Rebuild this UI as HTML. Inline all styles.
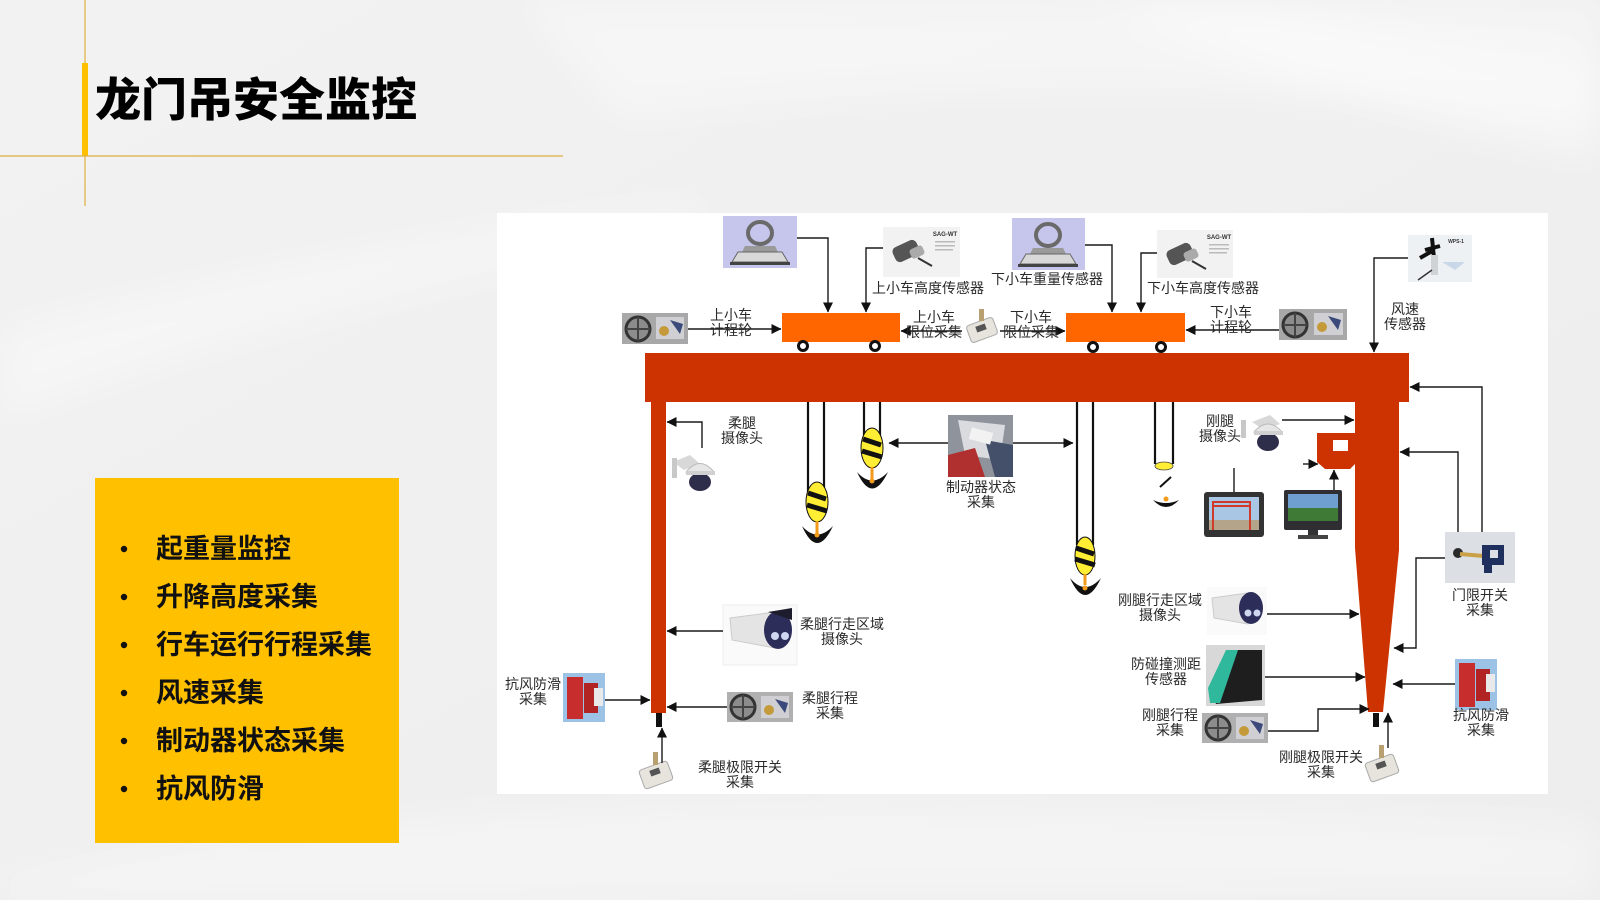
<!DOCTYPE html>
<html><head><meta charset="utf-8">
<style>
html,body{margin:0;padding:0;width:1600px;height:900px;overflow:hidden;background:#efefef;}
svg{display:block;}
text{font-family:"Liberation Sans","Noto Sans CJK SC",sans-serif;}
.lb{font-size:14px;fill:#2a2a2a;text-anchor:middle;dominant-baseline:central;}
.ln{stroke:#1a1a1a;stroke-width:1.4;fill:none;}
.rope{stroke:#111;stroke-width:2.2;}
</style></head>
<body>
<svg width="1600" height="900" viewBox="0 0 1600 900" xmlns="http://www.w3.org/2000/svg">
<defs>
<marker id="a" viewBox="0 0 10 10" refX="9.5" refY="5" markerWidth="10" markerHeight="10" markerUnits="userSpaceOnUse" orient="auto"><path d="M0,0 L10,5 L0,10 z" fill="#111"/></marker>
<linearGradient id="bg1" x1="0" y1="0" x2="1" y2="1"><stop offset="0" stop-color="#f2f2f2"/><stop offset="1" stop-color="#ededed"/></linearGradient>
<filter id="blur" x="-20%" y="-20%" width="140%" height="140%"><feGaussianBlur stdDeviation="18"/></filter>
</defs>

<!-- background -->
<rect width="1600" height="900" fill="url(#bg1)"/>
<g filter="url(#blur)">
<path d="M520,0 L1600,0 L1600,120 Q1100,60 620,120 Z" fill="#ffffff" opacity="0.35"/>
<path d="M0,330 Q300,250 700,200 L700,230 Q320,300 0,420 Z" fill="#ffffff" opacity="0.35"/>
<path d="M0,880 Q500,760 1600,820 L1600,900 L0,900 Z" fill="#ffffff" opacity="0.35"/>
<path d="M1100,0 Q1350,120 1600,160 L1600,60 Q1400,40 1250,0 Z" fill="#ffffff" opacity="0.4"/>
</g>

<!-- header -->
<line x1="85" y1="0" x2="85" y2="206" stroke="#e0b040" stroke-width="1.2"/>
<rect x="82" y="63" width="6" height="93" fill="#ffc000"/>
<line x1="0" y1="156" x2="563" y2="156" stroke="#e0b040" stroke-width="1.2"/>
<text x="95" y="100" font-size="46" font-weight="900" fill="#000" dominant-baseline="central">龙门吊安全监控</text>

<!-- yellow list box -->
<rect x="95" y="478" width="304" height="365" fill="#ffc000"/>
<g font-size="27" font-weight="700" fill="#111">
<circle cx="124" cy="549" r="3.2" fill="#111"/><text x="156" y="549" dominant-baseline="central">起重量监控</text>
<circle cx="124" cy="597" r="3.2" fill="#111"/><text x="156" y="597" dominant-baseline="central">升降高度采集</text>
<circle cx="124" cy="645" r="3.2" fill="#111"/><text x="156" y="645" dominant-baseline="central">行车运行行程采集</text>
<circle cx="124" cy="693" r="3.2" fill="#111"/><text x="156" y="693" dominant-baseline="central">风速采集</text>
<circle cx="124" cy="741" r="3.2" fill="#111"/><text x="156" y="741" dominant-baseline="central">制动器状态采集</text>
<circle cx="124" cy="789" r="3.2" fill="#111"/><text x="156" y="789" dominant-baseline="central">抗风防滑</text>
</g>

<!-- diagram panel -->
<rect x="497" y="213" width="1051" height="581" fill="#ffffff"/>

<!-- crane structure -->
<rect x="645" y="353" width="764" height="49" fill="#cc3300"/>
<rect x="651" y="400" width="15" height="313" fill="#cc3300"/>
<rect x="656" y="713" width="6" height="14" fill="#111"/>
<polygon points="1355,400 1399,400 1399,550 1383,712 1368,712 1355,548" fill="#cc3300"/>
<polygon points="1317,433 1356,433 1356,463 1350,469 1325,469 1317,462" fill="#cc3300"/>
<rect x="1333" y="440" width="15" height="11" fill="#fff"/>
<rect x="1373" y="713" width="6" height="14" fill="#111"/>

<!-- trolleys -->
<rect x="782" y="313" width="118" height="29" fill="#ff6600"/>
<circle cx="803" cy="346" r="4.5" fill="#fff" stroke="#111" stroke-width="3"/>
<circle cx="875" cy="346" r="4.5" fill="#fff" stroke="#111" stroke-width="3"/>
<rect x="1066" y="313" width="119" height="29" fill="#ff6600"/>
<circle cx="1093" cy="347" r="4.5" fill="#fff" stroke="#111" stroke-width="3"/>
<circle cx="1161" cy="347" r="4.5" fill="#fff" stroke="#111" stroke-width="3"/>

<!-- hooks -->
<g>
<line class="rope" x1="808" y1="402" x2="808" y2="492"/><line class="rope" x1="824" y1="402" x2="824" y2="492"/>
<ellipse cx="817" cy="502" rx="11" ry="20" fill="#ffee33" stroke="#111" stroke-width="1"/>
<line x1="808" y1="493" x2="826" y2="499" stroke="#111" stroke-width="5"/>
<line x1="807" y1="505" x2="827" y2="511" stroke="#111" stroke-width="5"/>
<line x1="817" y1="521" x2="817" y2="533" stroke="#f29a1a" stroke-width="3"/>
<path d="M802,526 Q817,560 833,526 Q817,543 802,526 Z" fill="#111"/>
<circle cx="817" cy="535" r="2.5" fill="#f29a1a"/>

<line class="rope" x1="864" y1="402" x2="864" y2="438"/><line class="rope" x1="880" y1="402" x2="880" y2="438"/>
<ellipse cx="872" cy="448" rx="11" ry="20" fill="#ffee33" stroke="#111" stroke-width="1"/>
<line x1="863" y1="439" x2="881" y2="445" stroke="#111" stroke-width="5"/>
<line x1="862" y1="451" x2="882" y2="457" stroke="#111" stroke-width="5"/>
<line x1="872" y1="467" x2="872" y2="479" stroke="#f29a1a" stroke-width="3"/>
<path d="M857,472 Q872,505 888,472 Q872,489 857,472 Z" fill="#111"/>
<circle cx="872" cy="481" r="2.5" fill="#f29a1a"/>

<line class="rope" x1="1077" y1="402" x2="1077" y2="545"/><line class="rope" x1="1093" y1="402" x2="1093" y2="545"/>
<ellipse cx="1085" cy="556" rx="10" ry="19" fill="#ffee33" stroke="#111" stroke-width="1"/>
<line x1="1076" y1="548" x2="1094" y2="554" stroke="#111" stroke-width="5"/>
<line x1="1075" y1="559" x2="1095" y2="565" stroke="#111" stroke-width="5"/>
<line x1="1085" y1="574" x2="1085" y2="585" stroke="#f29a1a" stroke-width="3"/>
<path d="M1070,578 Q1085,612 1101,578 Q1085,596 1070,578 Z" fill="#111"/>
<circle cx="1085" cy="588" r="2.5" fill="#f29a1a"/>

<line class="rope" x1="1155" y1="402" x2="1155" y2="464"/><line class="rope" x1="1173" y1="402" x2="1173" y2="464"/>
<ellipse cx="1164" cy="466" rx="9" ry="4" fill="#ffee33" stroke="#444" stroke-width="0.8"/>
<line x1="1160" y1="487" x2="1171" y2="477" stroke="#111" stroke-width="2"/>
<path d="M1153,500 Q1166,514 1179,500 Q1166,506 1153,500 Z" fill="#111"/>
<circle cx="1166" cy="499" r="2.5" fill="#f29a1a"/>
</g>

<!-- device pictures -->
<g>
<rect x="723" y="216" width="74" height="52" fill="#c6c6ec"/>
<ellipse cx="760" cy="233" rx="12" ry="11" fill="none" stroke="#6a6a6a" stroke-width="4"/>
<path d="M745,246 L775,246 L778,252 L742,252 Z" fill="#9a9a9a"/>
<path d="M732,262 L788,262 L782,252 L738,252 Z" fill="#d8d8d8" stroke="#666" stroke-width="1"/>
<rect x="730" y="262" width="60" height="3" fill="#444"/>
</g>
<g>
<rect x="1012" y="218" width="73" height="52" fill="#c6c6ec"/>
<ellipse cx="1048" cy="235" rx="12" ry="11" fill="none" stroke="#6a6a6a" stroke-width="4"/>
<path d="M1033,248 L1063,248 L1066,254 L1030,254 Z" fill="#9a9a9a"/>
<path d="M1020,264 L1076,264 L1070,254 L1026,254 Z" fill="#d8d8d8" stroke="#666" stroke-width="1"/>
<rect x="1018" y="264" width="60" height="3" fill="#444"/>
</g>
<g>
<rect x="883" y="227" width="77" height="50" fill="#f2f2f2"/>
<rect x="893" y="243" width="26" height="16" rx="5" fill="#555" transform="rotate(-25 906 251)"/>
<rect x="910" y="247" width="14" height="10" rx="3" fill="#aaa" transform="rotate(-25 917 252)"/>
<line x1="918" y1="258" x2="932" y2="266" stroke="#333" stroke-width="2"/>
<text x="945" y="236" font-size="6" font-weight="700" fill="#333" text-anchor="middle">SAG-WT</text>
<rect x="935" y="241" width="20" height="1.5" fill="#bbb"/><rect x="935" y="245" width="20" height="1.5" fill="#bbb"/><rect x="935" y="249" width="18" height="1.5" fill="#bbb"/>
</g>
<g>
<rect x="1157" y="230" width="76" height="48" fill="#f2f2f2"/>
<rect x="1167" y="246" width="26" height="16" rx="5" fill="#555" transform="rotate(-25 1180 254)"/>
<rect x="1184" y="250" width="14" height="10" rx="3" fill="#aaa" transform="rotate(-25 1191 255)"/>
<line x1="1192" y1="261" x2="1206" y2="269" stroke="#333" stroke-width="2"/>
<text x="1219" y="239" font-size="6" font-weight="700" fill="#333" text-anchor="middle">SAG-WT</text>
<rect x="1209" y="244" width="20" height="1.5" fill="#bbb"/><rect x="1209" y="248" width="20" height="1.5" fill="#bbb"/><rect x="1209" y="252" width="18" height="1.5" fill="#bbb"/>
</g>
<g>
<rect x="622" y="313" width="66" height="31" fill="#a8a8a8"/>
<circle cx="638" cy="329" r="12" fill="#8c8c8c" stroke="#333" stroke-width="3"/>
<line x1="626" y1="329" x2="650" y2="329" stroke="#444" stroke-width="2"/><line x1="638" y1="317" x2="638" y2="341" stroke="#444" stroke-width="2"/>
<rect x="656" y="317" width="28" height="22" fill="#cfcfd4"/>
<circle cx="664" cy="331" r="5" fill="#c49a3a"/>
<path d="M670,320 L683,324 L680,334 Z" fill="#3b4a7a"/>
</g>
<g>
<rect x="1279" y="309" width="68" height="31" fill="#a8a8a8"/>
<circle cx="1295" cy="325" r="12" fill="#8c8c8c" stroke="#333" stroke-width="3"/>
<line x1="1283" y1="325" x2="1307" y2="325" stroke="#444" stroke-width="2"/><line x1="1295" y1="313" x2="1295" y2="337" stroke="#444" stroke-width="2"/>
<rect x="1314" y="313" width="29" height="22" fill="#cfcfd4"/>
<circle cx="1322" cy="327" r="5" fill="#c49a3a"/>
<path d="M1328,316 L1341,320 L1338,330 Z" fill="#3b4a7a"/>
</g>
<g>
<rect x="727" y="692" width="66" height="30" fill="#b0b0b0"/>
<circle cx="743" cy="707" r="12" fill="#8c8c8c" stroke="#333" stroke-width="3"/>
<line x1="731" y1="707" x2="755" y2="707" stroke="#444" stroke-width="2"/><line x1="743" y1="695" x2="743" y2="719" stroke="#444" stroke-width="2"/>
<rect x="761" y="696" width="28" height="22" fill="#cfcfd4"/>
<circle cx="769" cy="710" r="5" fill="#c49a3a"/>
<path d="M775,699 L788,703 L785,713 Z" fill="#3b4a7a"/>
</g>
<g>
<rect x="1202" y="713" width="66" height="30" fill="#b0b0b0"/>
<circle cx="1218" cy="728" r="12" fill="#8c8c8c" stroke="#333" stroke-width="3"/>
<line x1="1206" y1="728" x2="1230" y2="728" stroke="#444" stroke-width="2"/><line x1="1218" y1="716" x2="1218" y2="740" stroke="#444" stroke-width="2"/>
<rect x="1236" y="717" width="28" height="22" fill="#cfcfd4"/>
<circle cx="1244" cy="731" r="5" fill="#c49a3a"/>
<path d="M1250,720 L1263,724 L1260,734 Z" fill="#3b4a7a"/>
</g>
<g>
<rect x="968" y="321" width="28" height="18" rx="3" fill="#e6e4dc" stroke="#aaa" stroke-width="1" transform="rotate(-20 982 330)"/>
<rect x="976" y="325" width="10" height="6" fill="#555" transform="rotate(-20 981 328)"/>
<rect x="979" y="309" width="5" height="12" fill="#b8a070"/>
</g>
<g>
<rect x="641" y="765" width="30" height="20" rx="3" fill="#e6e4dc" stroke="#aaa" stroke-width="1" transform="rotate(-20 656 775)"/>
<rect x="650" y="769" width="10" height="6" fill="#555" transform="rotate(-20 655 772)"/>
<rect x="653" y="752" width="5" height="13" fill="#b8a070"/>
</g>
<g>
<rect x="1367" y="758" width="30" height="20" rx="3" fill="#e6e4dc" stroke="#aaa" stroke-width="1" transform="rotate(-20 1382 768)"/>
<rect x="1376" y="762" width="10" height="6" fill="#555" transform="rotate(-20 1381 765)"/>
<rect x="1379" y="745" width="5" height="13" fill="#b8a070"/>
</g>
<g>
<rect x="1408" y="235" width="64" height="47" fill="#eef1f4"/>
<path d="M1425,250 L1440,246 M1432,238 L1434,258 M1420,258 L1434,250" stroke="#111" stroke-width="4"/>
<rect x="1431" y="255" width="7" height="20" fill="#cfd3d6"/>
<line x1="1418" y1="280" x2="1432" y2="270" stroke="#333" stroke-width="1.5"/>
<path d="M1442,262 L1465,262 L1455,270 Z" fill="#c9d8e8"/>
<text x="1456" y="243" font-size="5" font-weight="700" fill="#333" text-anchor="middle">WPS-1</text>
</g>
<g>
<path d="M673,462 L690,455 L700,464 L684,470 Z" fill="#d8d8d8"/>
<rect x="672" y="458" width="5" height="20" fill="#c8c8c8"/>
<path d="M686,472 Q700,455 714,472 Z" fill="#e6e6e6" stroke="#bbb" stroke-width="1"/>
<ellipse cx="700" cy="482" rx="11" ry="9" fill="#2e2e4a"/>
<rect x="686" y="471" width="29" height="4" fill="#d0d0d0"/>
</g>
<g>
<path d="M1252,422 L1270,415 L1280,424 L1264,430 Z" fill="#d8d8d8"/>
<rect x="1241" y="420" width="5" height="18" fill="#c8c8c8"/>
<path d="M1254,432 Q1268,416 1282,432 Z" fill="#e6e6e6" stroke="#bbb" stroke-width="1"/>
<ellipse cx="1268" cy="442" rx="11" ry="9" fill="#2e2e4a"/>
<rect x="1254" y="431" width="29" height="4" fill="#d0d0d0"/>
</g>
<g>
<rect x="723" y="605" width="74" height="60" fill="#fafafa" stroke="#eee" stroke-width="1"/>
<path d="M730,618 L775,612 L775,648 L732,640 Z" fill="#e4e4e4" stroke="#ccc" stroke-width="1"/>
<ellipse cx="778" cy="630" rx="14" ry="19" fill="#2d2d5a"/>
<circle cx="775" cy="636" r="4" fill="#cfd6f0"/><circle cx="785" cy="636" r="4" fill="#cfd6f0"/>
<path d="M768,612 L792,608 L792,620 Z" fill="#1c1c2c"/>
</g>
<g>
<rect x="1207" y="587" width="60" height="48" fill="#fafafa"/>
<path d="M1212,598 L1248,593 L1248,624 L1214,618 Z" fill="#e4e4e4" stroke="#ccc" stroke-width="1"/>
<ellipse cx="1251" cy="608" rx="12" ry="16" fill="#2d2d5a"/>
<circle cx="1248" cy="613" r="3.5" fill="#cfd6f0"/><circle cx="1257" cy="613" r="3.5" fill="#cfd6f0"/>
</g>
<g>
<rect x="948" y="415" width="65" height="62" fill="#8f949c"/>
<path d="M958,420 L1005,425 L1000,460 L965,455 Z" fill="#d9dbde"/>
<path d="M948,455 L975,448 L985,477 L948,477 Z" fill="#b03030"/>
<path d="M985,440 L1013,445 L1013,477 L995,477 Z" fill="#44506a"/>
<rect x="970" y="430" width="22" height="12" fill="#f2f2f2" transform="rotate(15 981 436)"/>
</g>
<g>
<rect x="1204" y="492" width="60" height="45" rx="3" fill="#333"/>
<rect x="1209" y="497" width="50" height="33" fill="#a9c7e4"/>
<rect x="1209" y="520" width="50" height="10" fill="#b4a48a"/>
<path d="M1213,530 L1213,502 L1250,502 L1250,530 M1213,506 L1250,506" stroke="#d03a2a" stroke-width="2" fill="none"/>
</g>
<g>
<rect x="1284" y="490" width="58" height="40" rx="2" fill="#2f2f33"/>
<rect x="1288" y="494" width="50" height="27" fill="#6f9fcf"/>
<rect x="1288" y="508" width="50" height="13" fill="#3f7a36"/>
<rect x="1308" y="530" width="10" height="5" fill="#333"/>
<rect x="1298" y="535" width="30" height="4" fill="#444"/>
</g>
<g>
<rect x="1206" y="645" width="59" height="61" fill="#d8d8d8"/>
<path d="M1210,690 L1228,650 L1262,650 L1262,700 L1216,704 Z" fill="#1e1e1e"/>
<path d="M1208,688 L1226,650 L1238,650 L1220,703 L1210,703 Z" fill="#2fb89c"/>
</g>
<g>
<rect x="563" y="673" width="42" height="49" fill="#9cc2e6"/>
<rect x="567" y="677" width="16" height="42" fill="#c82d2d"/>
<rect x="584" y="683" width="14" height="30" fill="#b22424"/>
<rect x="594" y="688" width="9" height="18" fill="#e9e9e9"/>
</g>
<g>
<rect x="1455" y="659" width="42" height="51" fill="#9cc2e6"/>
<rect x="1459" y="663" width="16" height="44" fill="#c82d2d"/>
<rect x="1476" y="669" width="14" height="32" fill="#b22424"/>
<rect x="1486" y="674" width="9" height="18" fill="#e9e9e9"/>
</g>
<g>
<rect x="1445" y="532" width="70" height="51" fill="#dcdfe4"/>
<circle cx="1458" cy="553" r="5" fill="#2a2a2a"/>
<line x1="1460" y1="554" x2="1484" y2="556" stroke="#c9a045" stroke-width="4"/>
<rect x="1482" y="545" width="22" height="20" fill="#1f2f5e"/>
<rect x="1490" y="550" width="8" height="8" fill="#dcdfe4"/>
<rect x="1484" y="565" width="8" height="8" fill="#1f2f5e"/>
</g>

<!-- connectors -->
<g class="ln">
<path d="M688,329 H781" marker-end="url(#a)"/>
<path d="M797,238 H828 V312" marker-end="url(#a)"/>
<path d="M883,248 H866 V312" marker-end="url(#a)"/>
<path d="M962,331 H901" marker-end="url(#a)"/>
<path d="M1000,331 H1065" marker-end="url(#a)"/>
<path d="M1085,245 H1112 V312" marker-end="url(#a)"/>
<path d="M1157,253 H1141 V312" marker-end="url(#a)"/>
<path d="M1279,330 H1186" marker-end="url(#a)"/>
<path d="M1408,258 H1374 V352" marker-end="url(#a)"/>
<path d="M1482,532 V387 H1410" marker-end="url(#a)"/>
<path d="M1458,532 V452 H1400" marker-end="url(#a)"/>
<path d="M1445,558 H1416 V648 H1394" marker-end="url(#a)"/>
<path d="M1455,684 H1393" marker-end="url(#a)"/>
<path d="M1267,614 H1359" marker-end="url(#a)"/>
<path d="M1265,677 H1365" marker-end="url(#a)"/>
<path d="M1268,731 H1318 V709 H1369" marker-end="url(#a)"/>
<path d="M1388,748 V713" marker-end="url(#a)"/>
<path d="M1282,420 H1354" marker-end="url(#a)"/>
<path d="M1303,464 H1318" marker-end="url(#a)"/>
<path d="M1334,490 V470" marker-end="url(#a)"/>
<path d="M1234,468 V492"/>
<path d="M948,443 H889" marker-end="url(#a)"/>
<path d="M1013,443 H1073" marker-end="url(#a)"/>
<path d="M702,448 V422 H667" marker-end="url(#a)"/>
<path d="M723,631 H667" marker-end="url(#a)"/>
<path d="M727,707 H667" marker-end="url(#a)"/>
<path d="M605,700 H650" marker-end="url(#a)"/>
<path d="M662,763 V728" marker-end="url(#a)"/>
</g>

<!-- labels -->
<g class="lb">
<text x="731" y="315">上小车</text><text x="731" y="330">计程轮</text>
<text x="928" y="288">上小车高度传感器</text>
<text x="934" y="317">上小车</text><text x="934" y="332">限位采集</text>
<text x="1031" y="317">下小车</text><text x="1031" y="332">限位采集</text>
<text x="1047" y="279">下小车重量传感器</text>
<text x="1203" y="288">下小车高度传感器</text>
<text x="1231" y="312">下小车</text><text x="1231" y="327">计程轮</text>
<text x="1405" y="309">风速</text><text x="1405" y="324">传感器</text>
<text x="742" y="423">柔腿</text><text x="742" y="438">摄像头</text>
<text x="981" y="487">制动器状态</text><text x="981" y="502">采集</text>
<text x="1220" y="421">刚腿</text><text x="1220" y="436">摄像头</text>
<text x="1480" y="595">门限开关</text><text x="1480" y="610">采集</text>
<text x="842" y="624">柔腿行走区域</text><text x="842" y="639">摄像头</text>
<text x="1160" y="600">刚腿行走区域</text><text x="1160" y="615">摄像头</text>
<text x="1166" y="664">防碰撞测距</text><text x="1166" y="679">传感器</text>
<text x="1170" y="715">刚腿行程</text><text x="1170" y="730">采集</text>
<text x="1481" y="715">抗风防滑</text><text x="1481" y="730">采集</text>
<text x="1321" y="757">刚腿极限开关</text><text x="1321" y="772">采集</text>
<text x="740" y="767">柔腿极限开关</text><text x="740" y="782">采集</text>
<text x="830" y="698">柔腿行程</text><text x="830" y="713">采集</text>
<text x="533" y="684">抗风防滑</text><text x="533" y="699">采集</text>
</g>
</svg>
</body></html>
